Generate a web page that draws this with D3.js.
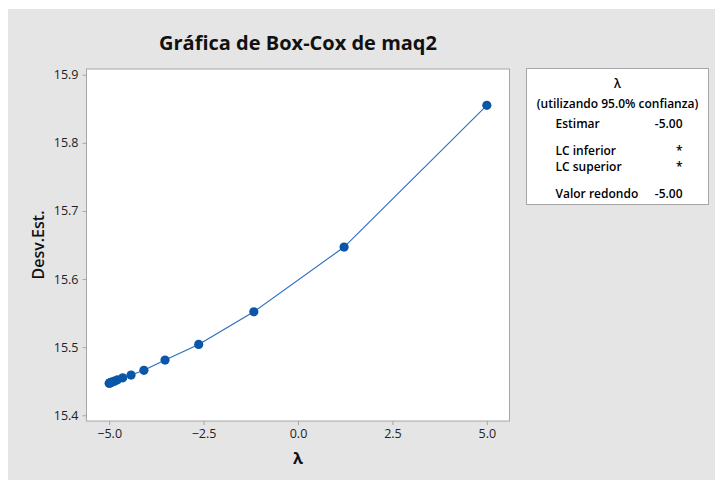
<!DOCTYPE html>
<html>
<head>
<meta charset="utf-8">
<script src="https://cdn.jsdelivr.net/npm/d3@7"></script>
<style>
  body { margin: 0; background: #fff; }
  text { font-family: "Open Sans", "Noto Sans", sans-serif; }
</style>
</head>
<body>
<script>
// Box-Cox plot for maq2

// lambda values tried and the standard deviation at each
var lambdas = [5.0, 1.22, -1.17, -2.63, -3.52, -4.08, -4.42, -4.64, -4.78, -4.86, -4.92, -4.95, -4.97, -4.99, -5.0];
var stdevs  = [15.855, 15.647, 15.552, 15.504, 15.481, 15.466, 15.459, 15.455, 15.452, 15.450, 15.449, 15.448, 15.448, 15.447, 15.447];

var xTicks = [-5.0, -2.5, 0.0, 2.5, 5.0];
var yTicks = [15.4, 15.5, 15.6, 15.7, 15.8, 15.9];

// legend rows: label, value
var legendLabels = ["Estimar", "LC inferior", "LC superior", "Valor redondo"];
var legendValues = ["-5.00", "*", "*", "-5.00"];

var data = lambdas.map(function(l, i) { return {lambda: l, sd: stdevs[i]}; });

var W = 715, H = 480;
var margin = {top: 69, right: 205, bottom: 59, left: 86.5},
    width = 509.5 - margin.left,
    height = 421 - margin.top;

var x = d3.scaleLinear().domain([-5.6, 5.6]).range([0, width]);
var y = d3.scaleLinear().domain([15.3916, 15.9084]).range([height, 0]);

var svg = d3.select("body").append("svg")
    .attr("width", W)
    .attr("height", H);

// grey panel
svg.append("rect")
    .attr("x", 8).attr("y", 9)
    .attr("width", W - 8).attr("height", H - 9)
    .attr("fill", "#e5e5e5");

// title
svg.append("text")
    .attr("x", margin.left + width / 2)
    .attr("y", 49.5)
    .attr("text-anchor", "middle")
    .style("font-size", "20px")
    .style("font-weight", "bold")
    .attr("fill", "#111")
    .text("Gráfica de Box-Cox de maq2");

var g = svg.append("g")
    .attr("transform", "translate(" + margin.left + "," + margin.top + ")");

g.append("rect")
    .attr("width", width)
    .attr("height", height)
    .attr("fill", "#fff")
    .attr("stroke", "#a6a6a6");

// x axis
var xAxis = g.append("g")
    .attr("transform", "translate(0," + height + ")")
    .call(d3.axisBottom(x).tickValues(xTicks).tickFormat(d3.format(".1f")).tickSizeOuter(0).tickSize(4));
xAxis.select(".domain").remove();
xAxis.selectAll("line").attr("stroke", "#a6a6a6");
xAxis.selectAll("text")
    .attr("y", 8)
    .style("font-size", "12.5px")
    .style("font-family", "'Open Sans', sans-serif")
    .attr("fill", "#222");

// y axis
var yAxis = g.append("g")
    .call(d3.axisLeft(y).tickValues(yTicks).tickFormat(d3.format(".1f")).tickSizeOuter(0).tickSize(4));
yAxis.select(".domain").remove();
yAxis.selectAll("line").attr("stroke", "#a6a6a6");
yAxis.selectAll("text")
    .attr("x", -8)
    .style("font-size", "12.5px")
    .style("font-family", "'Open Sans', sans-serif")
    .attr("fill", "#222");

// axis labels
svg.append("text")
    .attr("x", margin.left + width / 2)
    .attr("y", 464)
    .attr("text-anchor", "middle")
    .style("font-size", "16px")
    .style("font-weight", "bold")
    .attr("fill", "#111")
    .text("λ");

svg.append("text")
    .attr("transform", "translate(44," + (margin.top + height / 2) + ") rotate(-90)")
    .attr("text-anchor", "middle")
    .style("font-size", "16px")
    .style("font-weight", "600")
    .attr("fill", "#111")
    .text("Desv.Est.");

// line + points
var line = d3.line()
    .x(function(d) { return x(d.lambda); })
    .y(function(d) { return y(d.sd); });

g.append("path")
    .datum(data)
    .attr("d", line)
    .attr("fill", "none")
    .attr("stroke", "#2a6cbf")
    .attr("stroke-width", 1.1);

g.selectAll("circle")
    .data(data)
  .enter().append("circle")
    .attr("r", 4.6)
    .attr("cx", function(d) { return x(d.lambda); })
    .attr("cy", function(d) { return y(d.sd); })
    .attr("fill", "#0a56a8");

// legend box
var lg = svg.append("g").attr("transform", "translate(526.5,68.5)");
lg.append("rect")
    .attr("width", 182)
    .attr("height", 136)
    .attr("fill", "#fff")
    .attr("stroke", "#a6a6a6");

lg.append("text")
    .attr("x", 91).attr("y", 19)
    .attr("text-anchor", "middle")
    .style("font-size", "12px")
    .style("font-weight", "600")
    .text("λ");

lg.append("text")
    .attr("x", 91).attr("y", 39)
    .attr("text-anchor", "middle")
    .style("font-size", "12px")
    .style("font-weight", "600")
    .text("(utilizando 95.0% confianza)");

var rowY = [59, 86, 102, 129];
lg.selectAll(".lab")
    .data(legendLabels)
  .enter().append("text")
    .attr("class", "lab")
    .attr("x", 29)
    .attr("y", function(d, i) { return rowY[i]; })
    .style("font-size", "12px")
    .style("font-weight", "600")
    .text(function(d) { return d; });

lg.selectAll(".val")
    .data(legendValues)
  .enter().append("text")
    .attr("class", "val")
    .attr("x", 156)
    .attr("y", function(d, i) { return rowY[i]; })
    .attr("text-anchor", "end")
    .style("font-size", "12px")
    .style("font-weight", "600")
    .text(function(d) { return d; });
</script>
</body>
</html>
